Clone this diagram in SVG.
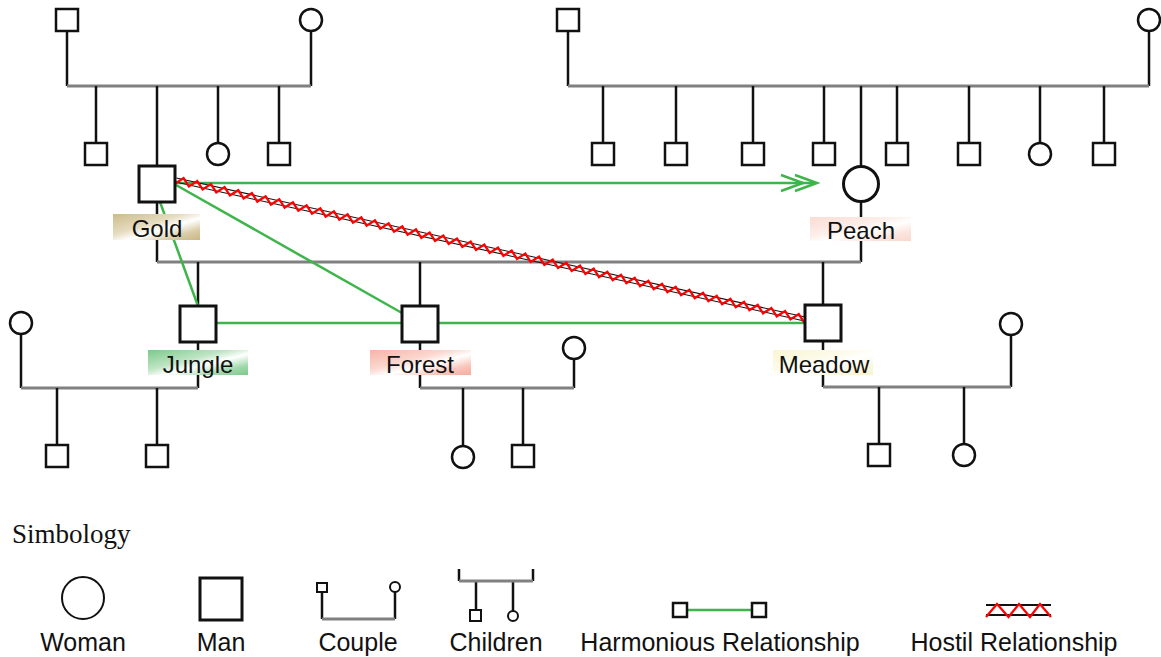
<svg xmlns="http://www.w3.org/2000/svg" width="1161" height="657" viewBox="0 0 1161 657">
  <defs>
    <linearGradient id="gGold" x1="0" y1="0" x2="1" y2="1">
      <stop offset="0" stop-color="#cbbb8c"/>
      <stop offset="0.4" stop-color="#e6dcc0"/>
      <stop offset="0.58" stop-color="#ffffff"/>
      <stop offset="0.8" stop-color="#d9cca6"/>
      <stop offset="1" stop-color="#c9b786"/>
    </linearGradient>
    <linearGradient id="gJungle" x1="0" y1="0" x2="1" y2="1">
      <stop offset="0" stop-color="#7cc98a"/>
      <stop offset="0.4" stop-color="#bfe5c5"/>
      <stop offset="0.58" stop-color="#ffffff"/>
      <stop offset="0.8" stop-color="#a3d9ac"/>
      <stop offset="1" stop-color="#7cc98a"/>
    </linearGradient>
    <linearGradient id="gForest" x1="0" y1="0" x2="1" y2="1">
      <stop offset="0" stop-color="#f7b3a6"/>
      <stop offset="0.4" stop-color="#fbd8d0"/>
      <stop offset="0.58" stop-color="#ffffff"/>
      <stop offset="0.8" stop-color="#f9c6bb"/>
      <stop offset="1" stop-color="#f5ab9c"/>
    </linearGradient>
    <linearGradient id="gPeach" x1="0" y1="0" x2="1" y2="1">
      <stop offset="0" stop-color="#fadcd3"/>
      <stop offset="0.4" stop-color="#fdeee9"/>
      <stop offset="0.58" stop-color="#ffffff"/>
      <stop offset="0.8" stop-color="#fbe4dd"/>
      <stop offset="1" stop-color="#f9d8ce"/>
    </linearGradient>
    <linearGradient id="gMeadow" x1="0" y1="0" x2="1" y2="1">
      <stop offset="0" stop-color="#faf5d2"/>
      <stop offset="0.4" stop-color="#fdfbea"/>
      <stop offset="0.58" stop-color="#ffffff"/>
      <stop offset="0.8" stop-color="#fbf7dc"/>
      <stop offset="1" stop-color="#f9f3cc"/>
    </linearGradient>
  </defs>
  <style>
    .ln { stroke: #111; stroke-width: 2.5; fill: none; }
    .cp { stroke: #808080; stroke-width: 3; fill: none; }
    .sm { fill: #fff; stroke: #111; stroke-width: 2.5; }
    .big { fill: #fff; stroke: #111; stroke-width: 3; }
    .ok { stroke: #3db54a; stroke-width: 2.5; fill: none; }
    .bad { stroke: #ff0000; stroke-width: 2.3; fill: none; stroke-linejoin: miter; }
    .rail { stroke: #111; stroke-width: 1; }
    .lbl { font-family: "Liberation Sans", Arial, sans-serif; font-size: 24px; fill: #111; text-anchor: middle; }
    .leg { font-family: "Liberation Sans", Arial, sans-serif; font-size: 25px; fill: #111; text-anchor: middle; }
    .ttl { font-family: "Liberation Serif", "Times New Roman", serif; font-size: 27px; fill: #111; }
  </style>

  <rect width="1161" height="657" fill="#fff"/>

  <!-- family lines -->
  <g id="lines">
    <!-- Gold's parents -->
    <path class="ln" d="M67,31V86 M311,31V86"/>
    <path class="cp" d="M67,86H311"/>
    <path class="ln" d="M96,86V143 M157,86V166 M218,86V143 M279,86V143"/>
    <!-- Peach's parents -->
    <path class="ln" d="M568,31V86 M1149,31V86"/>
    <path class="cp" d="M568,86H1149"/>
    <path class="ln" d="M603,86V143 M676,86V143 M753,86V143 M824,86V143 M861,86V166 M897,86V143 M969,86V143 M1040,86V143 M1104,86V143"/>
    <!-- Gold and Peach -->
    <path class="ln" d="M157,202V262 M861,202V262"/>
    <path class="cp" d="M157,262H861"/>
    <path class="ln" d="M198,262V306 M420,262V306 M823,262V305"/>
    <!-- Jungle's couple -->
    <path class="ln" d="M198,342V388 M21,334V388"/>
    <path class="cp" d="M21,388H198"/>
    <path class="ln" d="M57,388V445 M157,388V445"/>
    <!-- Forest's couple -->
    <path class="ln" d="M420,342V388 M574,359V388"/>
    <path class="cp" d="M420,388H574"/>
    <path class="ln" d="M463,388V446 M523,388V445"/>
    <!-- Meadow's couple -->
    <path class="ln" d="M823,341V387 M1011,335V387"/>
    <path class="cp" d="M823,387H1011"/>
    <path class="ln" d="M879,387V444 M964,387V444"/>
  </g>

  <!-- relationships -->
  <g id="connectors">
    <path class="ok" d="M175,183H815"/>
    <path class="ok" d="M781,175L803,183L781,191 M795,175L817,183L795,191"/>
    <path class="ok" d="M160,202L198,306"/>
    <path class="ok" d="M176,185L402,313"/>
    <path class="ok" d="M216,323H805"/>
    <g transform="translate(176,180) rotate(12.46)">
      <path class="rail" d="M0,-2H644 M0,2H644"/>
      <polyline class="bad" points="0,3.5 7,-3.5 14,3.5 21,-3.5 28,3.5 35,-3.5 42,3.5 49,-3.5 56,3.5 63,-3.5 70,3.5 77,-3.5 84,3.5 91,-3.5 98,3.5 105,-3.5 112,3.5 119,-3.5 126,3.5 133,-3.5 140,3.5 147,-3.5 154,3.5 161,-3.5 168,3.5 175,-3.5 182,3.5 189,-3.5 196,3.5 203,-3.5 210,3.5 217,-3.5 224,3.5 231,-3.5 238,3.5 245,-3.5 252,3.5 259,-3.5 266,3.5 273,-3.5 280,3.5 287,-3.5 294,3.5 301,-3.5 308,3.5 315,-3.5 322,3.5 329,-3.5 336,3.5 343,-3.5 350,3.5 357,-3.5 364,3.5 371,-3.5 378,3.5 385,-3.5 392,3.5 399,-3.5 406,3.5 413,-3.5 420,3.5 427,-3.5 434,3.5 441,-3.5 448,3.5 455,-3.5 462,3.5 469,-3.5 476,3.5 483,-3.5 490,3.5 497,-3.5 504,3.5 511,-3.5 518,3.5 525,-3.5 532,3.5 539,-3.5 546,3.5 553,-3.5 560,3.5 567,-3.5 574,3.5 581,-3.5 588,3.5 595,-3.5 602,3.5 609,-3.5 616,3.5 623,-3.5 630,3.5 637,-3.5 644,3.5"/>
    </g>
  </g>

  <!-- Gold's parents and siblings -->
  <g id="gold-father"><rect class="sm" x="56" y="9" width="22" height="22"/></g>
  <g id="gold-mother"><circle class="sm" cx="311" cy="20" r="11"/></g>
  <g id="gold-sib1"><rect class="sm" x="85" y="143" width="22" height="22"/></g>
  <g id="gold-sib2"><circle class="sm" cx="218" cy="154" r="11"/></g>
  <g id="gold-sib3"><rect class="sm" x="268" y="143" width="22" height="22"/></g>

  <!-- Peach's parents and siblings -->
  <g id="peach-father"><rect class="sm" x="557" y="9" width="22" height="22"/></g>
  <g id="peach-mother"><circle class="sm" cx="1149" cy="20" r="11"/></g>
  <g id="peach-sib1"><rect class="sm" x="592" y="143" width="22" height="22"/></g>
  <g id="peach-sib2"><rect class="sm" x="665" y="143" width="22" height="22"/></g>
  <g id="peach-sib3"><rect class="sm" x="742" y="143" width="22" height="22"/></g>
  <g id="peach-sib4"><rect class="sm" x="813" y="143" width="22" height="22"/></g>
  <g id="peach-sib5"><rect class="sm" x="886" y="143" width="22" height="22"/></g>
  <g id="peach-sib6"><rect class="sm" x="958" y="143" width="22" height="22"/></g>
  <g id="peach-sib7"><circle class="sm" cx="1040" cy="154" r="11"/></g>
  <g id="peach-sib8"><rect class="sm" x="1093" y="143" width="22" height="22"/></g>

  <!-- main people -->
  <g id="gold">
    <rect class="big" x="139" y="166" width="36" height="36"/>
    <rect x="113" y="214" width="87" height="26" fill="url(#gGold)"/>
    <text class="lbl" x="157" y="237">Gold</text>
  </g>
  <g id="peach">
    <circle class="big" cx="861" cy="184" r="17.5"/>
    <rect x="810" y="217" width="101" height="24" fill="url(#gPeach)"/>
    <text class="lbl" x="861" y="239">Peach</text>
  </g>
  <g id="jungle">
    <rect class="big" x="180" y="306" width="36" height="36"/>
    <rect x="148" y="350" width="100" height="25" fill="url(#gJungle)"/>
    <text class="lbl" x="198" y="373">Jungle</text>
  </g>
  <g id="forest">
    <rect class="big" x="402" y="306" width="36" height="36"/>
    <rect x="370" y="350" width="101" height="25" fill="url(#gForest)"/>
    <text class="lbl" x="420" y="373">Forest</text>
  </g>
  <g id="meadow">
    <rect class="big" x="805" y="305" width="36" height="36"/>
    <rect x="773" y="350" width="100" height="25" fill="url(#gMeadow)"/>
    <text class="lbl" x="824" y="373">Meadow</text>
  </g>

  <!-- partners and children -->
  <g id="jungle-wife"><circle class="sm" cx="21" cy="323" r="11"/></g>
  <g id="jungle-child1"><rect class="sm" x="46" y="445" width="22" height="22"/></g>
  <g id="jungle-child2"><rect class="sm" x="146" y="445" width="22" height="22"/></g>
  <g id="forest-wife"><circle class="sm" cx="574" cy="348" r="11"/></g>
  <g id="forest-child1"><circle class="sm" cx="463" cy="457" r="11"/></g>
  <g id="forest-child2"><rect class="sm" x="512" y="445" width="22" height="22"/></g>
  <g id="meadow-wife"><circle class="sm" cx="1011" cy="324" r="11"/></g>
  <g id="meadow-child1"><rect class="sm" x="868" y="444" width="22" height="22"/></g>
  <g id="meadow-child2"><circle class="sm" cx="964" cy="455" r="11"/></g>

  <!-- legend -->
  <g id="legend">
    <text class="ttl" x="12" y="543">Simbology</text>

    <circle fill="#fff" stroke="#111" stroke-width="2" cx="83" cy="598" r="21"/>
    <text class="leg" x="83" y="651">Woman</text>

    <rect fill="#fff" stroke="#111" stroke-width="3" x="200" y="578" width="42" height="42"/>
    <text class="leg" x="221" y="651">Man</text>

    <path class="ln" d="M322,592V619 M395,592V619" stroke-width="2"/>
    <path class="cp" d="M322,619H395" stroke-width="2.5"/>
    <rect fill="#fff" stroke="#111" stroke-width="2" x="317" y="583" width="10" height="9"/>
    <circle fill="#fff" stroke="#111" stroke-width="2" cx="395" cy="587" r="5"/>
    <text class="leg" x="358" y="651">Couple</text>

    <path class="ln" d="M459,569V581 M533,569V581 M476,581V610 M513,581V611" stroke-width="2"/>
    <path class="cp" d="M459,581H533" stroke-width="2.5"/>
    <rect fill="#fff" stroke="#111" stroke-width="2" x="470" y="610" width="11" height="11"/>
    <circle fill="#fff" stroke="#111" stroke-width="2" cx="513" cy="616" r="5"/>
    <text class="leg" x="496" y="651">Children</text>

    <path class="ok" d="M687,610H752"/>
    <rect fill="#fff" stroke="#111" stroke-width="2.5" x="673" y="603" width="14" height="14"/>
    <rect fill="#fff" stroke="#111" stroke-width="2.5" x="752" y="603" width="14" height="14"/>
    <text class="leg" x="720" y="651">Harmonious Relationship</text>

    <path stroke="#111" stroke-width="2" d="M986,605H1051 M986,615H1051"/>
    <polyline class="bad" points="986,617 997,604 1008.5,617 1019,604 1030,617 1040,604 1051,617"/>
    <text class="leg" x="1014" y="651">Hostil Relationship</text>
  </g>
</svg>
